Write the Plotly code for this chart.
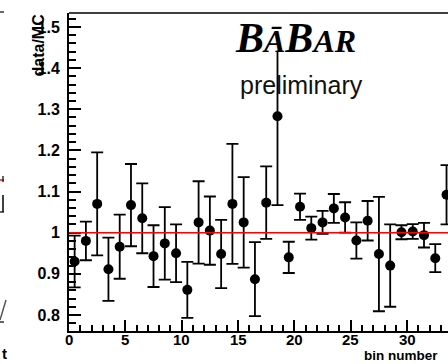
import plotly.graph_objects as go

# ---- data ----
bin_centers = [0.5, 1.5, 2.5, 3.5, 4.5, 5.5, 6.5, 7.5, 8.5, 9.5, 10.5, 11.5,
               12.5, 13.5, 14.5, 15.5, 16.5, 17.5, 18.5, 19.5, 20.5, 21.5,
               22.5, 23.5, 24.5, 25.5, 26.5, 27.5, 28.5, 29.5, 30.5, 31.5,
               32.5, 33.5]
ratio = [0.93, 0.98, 1.07, 0.911, 0.966, 1.067, 1.035, 0.943, 0.974, 0.95,
         0.861, 1.025, 1.005, 0.948, 1.07, 1.025, 0.887, 1.073, 1.283, 0.94,
         1.063, 1.011, 1.025, 1.059, 1.037, 0.981, 1.029, 0.948, 0.92, 1.001,
         1.003, 0.994, 0.938, 1.092]
ratio_err = [0.063, 0.047, 0.125, 0.077, 0.078, 0.10, 0.085, 0.075, 0.088,
             0.07, 0.068, 0.10, 0.083, 0.083, 0.146, 0.11, 0.09, 0.088, 0.216,
             0.038, 0.032, 0.028, 0.028, 0.035, 0.037, 0.044, 0.048, 0.139,
             0.10, 0.017, 0.018, 0.03, 0.034, 0.072]
ref_value = 1.0
x_range = [0, 33.63]
y_range = [0.761, 1.534]
y_ticks = [0.8, 0.9, 1.0, 1.1, 1.2, 1.3, 1.4, 1.5]
y_ticklabels = ["0.8", "0.9", "1", "1.1", "1.2", "1.3", "1.4", "1.5"]
x_ticks = [0, 5, 10, 15, 20, 25, 30]
x_ticklabels = ["0", "5", "10", "15", "20", "25", "30"]

# ---- layout geometry ----
W, H = 448, 364
L, R, T, B = 69, 0, 13, 33


def px2x(px):
    return (px - L) / (W - L - R)


def py2y(py):
    return (H - B - py) / (H - T - B)


fig = go.Figure()
fig.add_trace(go.Scatter(
    x=bin_centers, y=ratio, mode="markers",
    marker=dict(symbol="circle", size=10, color="black"),
    error_y=dict(type="data", array=ratio_err, visible=True,
                 color="black", thickness=1.8, width=6),
    showlegend=False, cliponaxis=True,
))

shapes = []
# reference line at 1
shapes.append(dict(type="line", xref="x", yref="y", x0=x_range[0], x1=x_range[1],
                   y0=ref_value, y1=ref_value, line=dict(color="#ff0000", width=1.6),
                   layer="above"))
# top frame line
shapes.append(dict(type="line", xref="paper", yref="paper", x0=0, x1=1, y0=1, y1=1,
                   line=dict(color="black", width=1.3)))
# white patch hiding the top of the tall error bar behind the logo
shapes.append(dict(type="rect", xref="paper", yref="paper",
                   x0=px2x(271), x1=px2x(285), y0=py2y(52), y1=py2y(20),
                   fillcolor="white", line=dict(width=0), layer="above"))
# fragments of the neighbouring panel at the left edge
shapes.append(dict(type="line", xref="paper", yref="paper", x0=px2x(0), x1=px2x(4),
                   y0=py2y(12), y1=py2y(12), line=dict(color="black", width=1.2)))
shapes.append(dict(type="line", xref="paper", yref="paper", x0=px2x(0), x1=px2x(4),
                   y0=py2y(180), y1=py2y(180), line=dict(color="#ff0000", width=1.4)))
shapes.append(dict(type="line", xref="paper", yref="paper", x0=px2x(3), x1=px2x(3),
                   y0=py2y(176), y1=py2y(182), line=dict(color="black", width=1.2)))
shapes.append(dict(type="line", xref="paper", yref="paper", x0=px2x(3), x1=px2x(3),
                   y0=py2y(195), y1=py2y(212), line=dict(color="black", width=1.5)))
shapes.append(dict(type="line", xref="paper", yref="paper", x0=px2x(0), x1=px2x(4),
                   y0=py2y(212), y1=py2y(212), line=dict(color="black", width=1.2)))
shapes.append(dict(type="line", xref="paper", yref="paper", x0=px2x(0), x1=px2x(6),
                   y0=py2y(320), y1=py2y(300), line=dict(color="#555555", width=1.5)))
shapes.append(dict(type="line", xref="paper", yref="paper", x0=px2x(0), x1=px2x(4),
                   y0=py2y(322), y1=py2y(322), line=dict(color="black", width=1.2)))

annotations = [
    dict(text="<b><i>B<span style='font-size:32px'>Ā</span>B<span style='font-size:32px'>AR</span></i></b>",
         xref="paper", yref="paper", x=px2x(295), y=py2y(38),
         xanchor="center", yanchor="middle", showarrow=False,
         font=dict(family="Liberation Serif", size=42, color="black")),
    dict(text="preliminary", xref="paper", yref="paper", x=px2x(301), y=py2y(85),
         xanchor="center", yanchor="middle", showarrow=False,
         font=dict(family="Liberation Sans", size=25, color="#111111")),
    dict(text="<b>bin number</b>", xref="paper", yref="paper", x=px2x(363), y=py2y(364),
         xanchor="left", yanchor="bottom", showarrow=False, borderpad=0,
         font=dict(family="Liberation Sans", size=13.5, color="black")),
    dict(text="<b>data/MC</b>", xref="paper", yref="paper", x=px2x(38), y=py2y(12),
         xanchor="center", yanchor="top", textangle=-90, showarrow=False,
         font=dict(family="Liberation Sans", size=16, color="black")),
    dict(text="<b>t</b>", xref="paper", yref="paper", x=px2x(0), y=py2y(353),
         xanchor="left", yanchor="middle", showarrow=False,
         font=dict(family="Liberation Sans", size=15, color="black")),
]
# x tick labels placed just under the axis
for tv, tl in zip(x_ticks, x_ticklabels):
    annotations.append(dict(text="<b>" + tl + "</b>", xref="x", yref="paper",
                            x=tv, y=py2y(339), xanchor="center", yanchor="middle",
                            showarrow=False, borderpad=0,
                            font=dict(family="Liberation Sans", size=15, color="black")))

fig.update_layout(
    width=W, height=H,
    margin=dict(l=L, r=R, t=T, b=B, pad=0),
    paper_bgcolor="white", plot_bgcolor="white",
    shapes=shapes, annotations=annotations,
    xaxis=dict(range=x_range, tickmode="array", tickvals=x_ticks, showticklabels=False,
               ticks="inside", ticklen=11, tickwidth=1.8, tickcolor="black",
               minor=dict(ticks="inside", dtick=1, tick0=0, ticklen=6,
                          tickwidth=1.5, tickcolor="black"),
               showline=True, linecolor="black", linewidth=2, showgrid=False,
               zeroline=False),
    yaxis=dict(range=y_range, tickmode="array", tickvals=y_ticks, ticktext=y_ticklabels,
               ticks="inside", ticklen=12, tickwidth=1.8, tickcolor="black",
               minor=dict(ticks="inside", dtick=0.02, tick0=0, ticklen=7,
                          tickwidth=1.5, tickcolor="black"),
               showline=True, linecolor="black", linewidth=2, showgrid=False,
               zeroline=False, ticklabelstandoff=4,
               tickfont=dict(family="Liberation Sans", size=16, color="black", weight="bold")),
)

fig.write_html("out.html")
